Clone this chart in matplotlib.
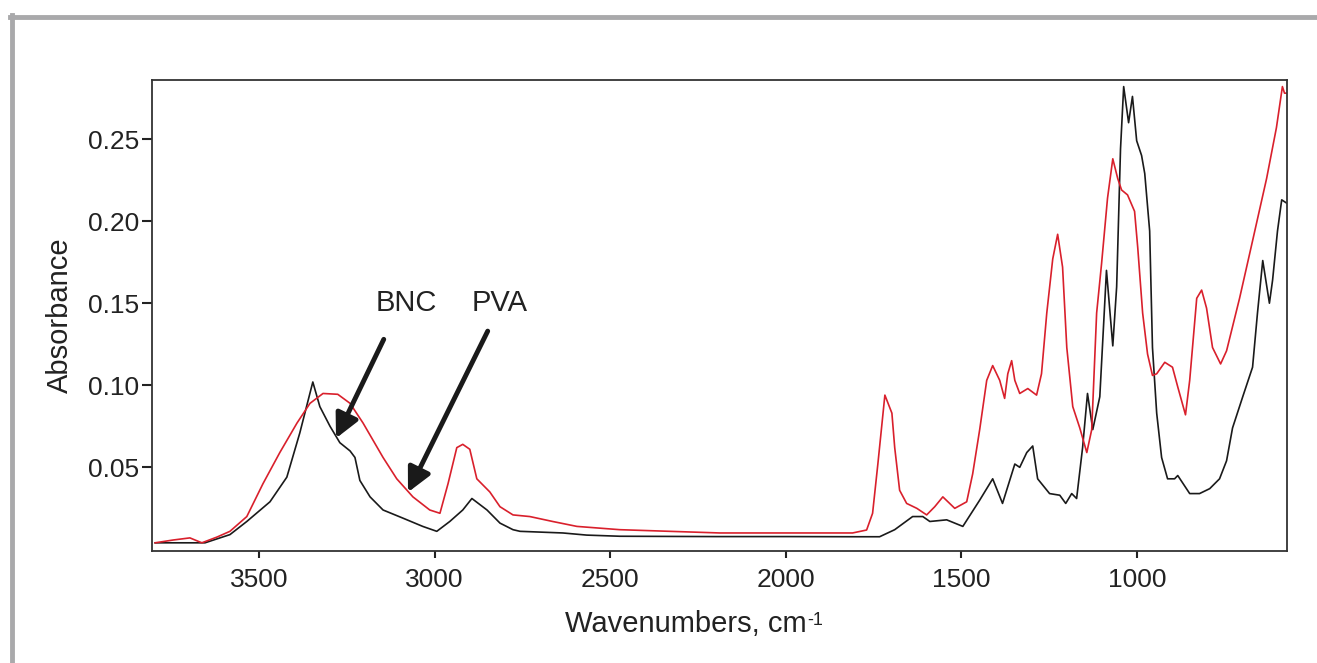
import matplotlib
matplotlib.use("Agg")
import matplotlib.pyplot as plt
from matplotlib.lines import Line2D

plt.rcParams["font.family"] = ["Liberation Sans", "DejaVu Sans"]

# BNC spectrum (black), wavenumber cm-1 / absorbance
bnc_wn = [3796, 3654, 3583, 3535, 3469, 3421, 3384, 3347, 3327, 3298, 3270, 3241, 3227,
          3213, 3184, 3147, 3090, 3034, 2994, 2957, 2920, 2894, 2851, 2814, 2777, 2757,
          2635, 2567, 2473, 2200, 2000, 1800, 1733, 1690, 1639, 1610, 1590, 1542, 1496,
          1448, 1411, 1383, 1348, 1334, 1314, 1297, 1283, 1249, 1220, 1203, 1186, 1172,
          1155, 1141, 1126, 1106, 1087, 1069, 1058, 1047, 1038, 1024, 1013, 1001, 987,
          978, 964, 956, 944, 930, 913, 893, 884, 850, 822, 793, 765, 745, 728, 699,
          671, 657, 642, 623, 614, 600, 588, 574]
bnc_abs = [0.004, 0.004, 0.009, 0.017, 0.029, 0.044, 0.071, 0.102, 0.087, 0.075, 0.065,
           0.060, 0.056, 0.042, 0.032, 0.024, 0.019, 0.014, 0.011, 0.017, 0.024, 0.031,
           0.024, 0.016, 0.012, 0.011, 0.010, 0.0087, 0.008, 0.0078, 0.0078, 0.0077,
           0.0077, 0.012, 0.020, 0.020, 0.017, 0.018, 0.014, 0.030, 0.043, 0.028, 0.052,
           0.050, 0.059, 0.063, 0.043, 0.034, 0.033, 0.028, 0.034, 0.031, 0.062, 0.095,
           0.073, 0.093, 0.170, 0.124, 0.160, 0.244, 0.282, 0.260, 0.276, 0.249, 0.240,
           0.229, 0.194, 0.123, 0.083, 0.056, 0.043, 0.043, 0.045, 0.034, 0.034, 0.037,
           0.043, 0.054, 0.074, 0.093, 0.111, 0.144, 0.176, 0.150, 0.164, 0.194, 0.213,
           0.211]

# PVA spectrum (red)
pva_wn = [3796, 3745, 3697, 3663, 3620, 3583, 3535, 3489, 3441, 3392, 3355, 3318, 3276,
          3241, 3204, 3147, 3108, 3062, 3014, 2985, 2962, 2937, 2920, 2900, 2880, 2843,
          2814, 2777, 2729, 2664, 2595, 2473, 2331, 2188, 1997, 1810, 1770, 1753, 1738,
          1718, 1698, 1690, 1676, 1656, 1627, 1599, 1576, 1553, 1519, 1485, 1468, 1448,
          1428, 1411, 1391, 1377, 1368, 1357, 1348, 1334, 1311, 1286, 1272, 1257, 1240,
          1226, 1212, 1200, 1183, 1163, 1143, 1129, 1115, 1101, 1084, 1069, 1055, 1044,
          1027, 1007, 998, 984, 970, 956, 944, 921, 899, 884, 862, 850, 830, 816, 802,
          785, 762, 745, 708, 671, 631, 603, 586, 580, 574]
pva_abs = [0.004, 0.0057, 0.007, 0.004, 0.0075, 0.011, 0.020, 0.040, 0.059, 0.077, 0.089,
           0.095, 0.0945, 0.089, 0.077, 0.056, 0.043, 0.032, 0.024, 0.022, 0.040, 0.062,
           0.064, 0.061, 0.043, 0.035, 0.026, 0.021, 0.020, 0.017, 0.014, 0.012, 0.011,
           0.010, 0.010, 0.010, 0.0118, 0.022, 0.052, 0.094, 0.083, 0.062, 0.036, 0.028,
           0.025, 0.021, 0.026, 0.032, 0.025, 0.029, 0.046, 0.073, 0.103, 0.112, 0.103,
           0.092, 0.107, 0.115, 0.103, 0.095, 0.098, 0.094, 0.107, 0.144, 0.177, 0.192,
           0.172, 0.123, 0.087, 0.074, 0.059, 0.073, 0.144, 0.174, 0.214, 0.238, 0.226,
           0.219, 0.216, 0.206, 0.184, 0.144, 0.119, 0.106, 0.107, 0.114, 0.111, 0.099,
           0.082, 0.103, 0.153, 0.158, 0.147, 0.123, 0.113, 0.121, 0.153, 0.188, 0.226,
           0.257, 0.282, 0.278, 0.278]

y_ticks = [0.05, 0.10, 0.15, 0.20, 0.25]
x_ticks = [3500, 3000, 2500, 2000, 1500, 1000]

# label text, text anchor (wn, abs), arrow tip (wn, abs), arrow tail (wn, abs)
labels = ["BNC", "PVA"]
label_pos = [(3082, 0.150), (2814, 0.150)]
arrow_tip = [(3281, 0.0677), (3076, 0.0348)]
arrow_tail = [(3145, 0.128), (2849, 0.133)]

fig = plt.figure(figsize=(13.17, 6.63), dpi=100)
ax = fig.add_axes([0.1154, 0.1689, 0.8618, 0.7104])

ax.plot(bnc_wn, bnc_abs, color="#1a1a1a", lw=1.2)
ax.plot(pva_wn, pva_abs, color="#d9202c", lw=1.2)

ax.set_xlim(3805, 573)
ax.set_ylim(-0.001, 0.286)
ax.set_xticks(x_ticks)
ax.set_yticks(y_ticks)
ax.set_yticklabels([f"{v:.2f}" for v in y_ticks])
ax.tick_params(axis="both", direction="out", labelsize=19, colors="#222222", width=1.5)
ax.tick_params(axis="y", length=7.5, pad=1.5)
ax.tick_params(axis="x", length=5, pad=7)
for sp in ax.spines.values():
    sp.set_color("#333333")
    sp.set_linewidth(1.3)

ax.set_xlabel("Wavenumbers, cm", fontsize=21, color="#222222")
ax.xaxis.set_label_coords(0.470, -0.125)
ax.set_ylabel("Absorbance", fontsize=21, color="#222222", labelpad=10)

for txt, pos, tip, tail in zip(labels, label_pos, arrow_tip, arrow_tail):
    ax.text(pos[0], pos[1], txt, fontsize=21, color="#222222", ha="center", va="center")
    ax.annotate("", xy=tip, xytext=tail,
                arrowprops=dict(arrowstyle="-|>", color="#1a1a1a", lw=3.5,
                                mutation_scale=36, shrinkA=0, shrinkB=0))

# superscript "-1" after the x label
fig.canvas.draw()
bb = ax.xaxis.label.get_window_extent()
W, H = fig.bbox.width, fig.bbox.height
fig.text((bb.x1 + 1) / W, (bb.y1 - 2) / H, "-1", fontsize=13, color="#222222",
         ha="left", va="top")

# grey frame lines along top and left of the figure
fig.add_artist(Line2D([10 / 1317, 1.0], [1 - 17 / 663, 1 - 17 / 663],
                      transform=fig.transFigure, color="#a9a9ab", lw=3.5))
fig.add_artist(Line2D([12 / 1317, 12 / 1317], [0.0, 1 - 15 / 663],
                      transform=fig.transFigure, color="#a9a9ab", lw=3.5))

fig.savefig("out.png", dpi=100)
